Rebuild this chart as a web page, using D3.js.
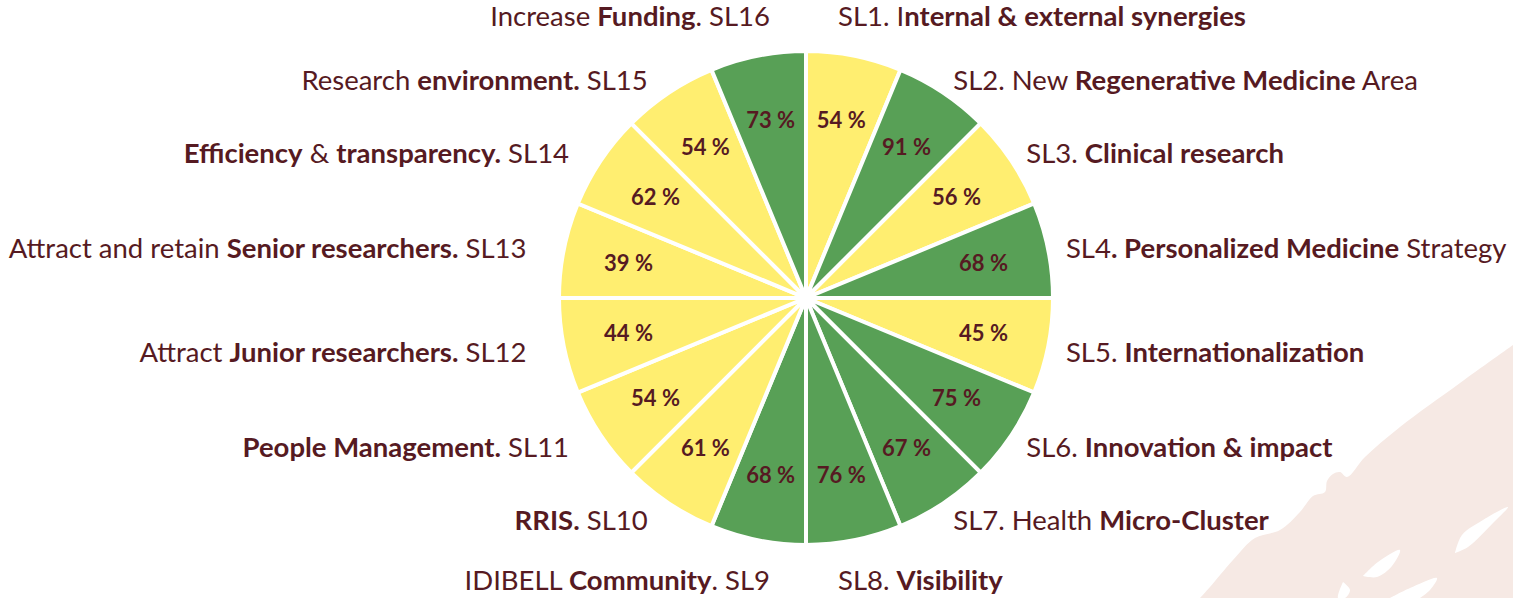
<!DOCTYPE html>
<html><head><meta charset="utf-8">
<script src="https://cdn.jsdelivr.net/npm/d3@7"></script>
<style>html,body{margin:0;padding:0;background:#fff;overflow:hidden}</style>
</head><body>
<svg id="chart" width="1513" height="598"></svg>
<script>
// ---- data ----
const codes = ["SL1","SL2","SL3","SL4","SL5","SL6","SL7","SL8","SL9","SL10","SL11","SL12","SL13","SL14","SL15","SL16"];
const values = [54,91,56,68,45,75,67,76,68,61,54,44,39,62,54,73];
// label text pieces: [text, bold?]
const labelParts = [
  [["SL1. I",0],["nternal & external synergies",1]],
  [["SL2. New ",0],["Regenerative Medicine",1],[" Area",0]],
  [["SL3. ",0],["Clinical research",1]],
  [["SL4",0],[". Personalized Medicine",1],[" Strategy",0]],
  [["SL5. ",0],["Internationalization",1]],
  [["SL6. ",0],["Innovation & impact",1]],
  [["SL7. Health ",0],["Micro-Cluster",1]],
  [["SL8. ",0],["Visibility",1]],
  [["IDIBELL ",0],["Community",1],[". SL9",0]],
  [["RRIS.",1],[" SL10",0]],
  [["People Management.",1],[" SL11",0]],
  [["Attract ",0],["Junior researchers.",1],[" SL12",0]],
  [["Attract and retain ",0],["Senior researchers.",1],[" SL13",0]],
  [["Efficiency",1],[" & ",0],["transparency.",1],[" SL14",0]],
  [["Research ",0],["environment.",1],[" SL15",0]],
  [["Increase ",0],["Funding",1],[". SL16",0]]
];
const threshold = [65];

// ---- layout ----
const W = 1513, H = 598;
const cx = 806, cy = 298, R = 247;
const YELLOW = "#FFEE70", GREEN = "#58A056", TEXT = "#561A22", BEIGE = "#F6E9E4";
const FONT = "Lato, 'Open Sans', sans-serif";

const svg = d3.select("#chart");

// background decoration
const deco = svg.append("g");
const curve = d3.line().curve(d3.curveCatmullRom.alpha(0.5));
const edge = [[1513,345],[1460,383],[1400,427],[1365,457],[1347,477],[1340,472],[1333,474],[1327,481],[1325,492],[1313,496],[1300,512],[1280,530],[1255,538],[1233,560],[1210,587],[1200,598]];
deco.append("path").attr("d", curve(edge) + "L1513,598Z").attr("fill", BEIGE);
const holes = [
  [[1363,576],[1378,562],[1400,550],[1392,566],[1377,577],[1363,576]],
  [[1455,553],[1462,535],[1483,520],[1508,507],[1494,522],[1468,547],[1455,553]],
  [[1390,598],[1410,588],[1437,578],[1430,590],[1420,598]],
  [[1343,582],[1350,590],[1345,598],[1338,598],[1343,582]]
];
holes.forEach(h => deco.append("path").attr("d", curve(h) + "Z").attr("fill", "#fff"));

const data = codes.map((c,i) => ({code:c, value:values[i], parts:labelParts[i]}));
const pie = d3.pie().value(() => 1).sort(null);
const arcs = pie(data);
const color = d3.scaleThreshold().domain(threshold).range([YELLOW, GREEN]);
const arc = d3.arc().innerRadius(0).outerRadius(R);
const labelArc = d3.arc().innerRadius(181).outerRadius(181);

const g = svg.append("g").attr("transform", `translate(${cx},${cy})`);
g.selectAll("path.slice").data(arcs).join("path")
  .attr("class","slice")
  .attr("d", arc)
  .attr("fill", d => color(d.data.value))
  .attr("stroke", "#fff")
  .attr("stroke-width", 4)
  .attr("stroke-linejoin", "miter");

g.selectAll("text.pct").data(arcs).join("text")
  .attr("class","pct")
  .attr("transform", d => `translate(${labelArc.centroid(d)})`)
  .attr("text-anchor","middle")
  .attr("dy","0.36em")
  .attr("font-family", FONT)
  .attr("font-weight", 700)
  .attr("font-size", 22)
  .attr("fill", TEXT)
  .text(d => d.data.value + " %");

// outer labels
function labelPos(d) {
  const a = (d.startAngle + d.endAngle) / 2;
  const s = Math.sin(a), c = Math.cos(a);
  const right = s > 0;
  if (Math.abs(c) > 0.95) {
    return {x: right ? 32 : -36, y: -Math.sign(c) * (R + 35), right};
  }
  const rx = right ? 265 : 285, ry = 265;
  return {x: rx * s, y: -ry * c + 2, right};
}
const lab = g.selectAll("text.lab").data(arcs).join("text")
  .attr("class","lab")
  .each(function(d){
    const p = labelPos(d);
    d3.select(this).attr("x", p.x).attr("y", p.y)
      .attr("text-anchor", p.right ? "start" : "end");
  })
  .attr("dy","0.36em")
  .attr("font-family", FONT)
  .attr("font-size", 27.5)
  .attr("fill", TEXT)
  .attr("xml:space","preserve");
lab.selectAll("tspan").data(d => d.data.parts).join("tspan")
  .attr("font-weight", p => p[1] ? 700 : 400)
  .text(p => p[0]);
</script>
</body></html>
